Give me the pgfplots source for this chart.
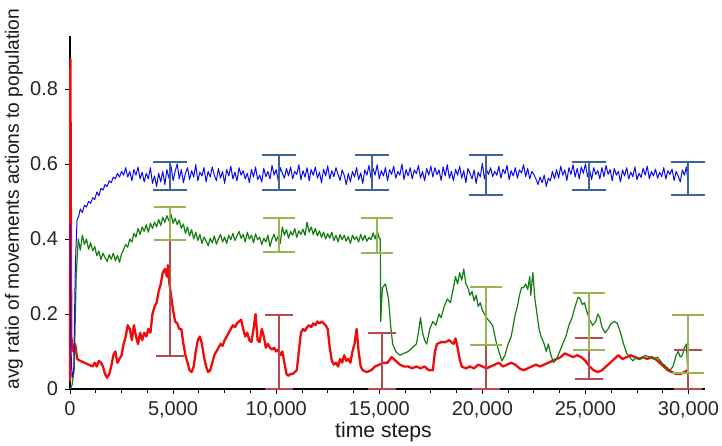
\documentclass[border=0pt]{standalone}
\usepackage{fontspec}
\setmainfont{Liberation Sans}
\usepackage{pgfplots}
\pgfplotsset{compat=1.18}
\definecolor{cblue}{RGB}{10,10,245}
\definecolor{cgreen}{RGB}{20,125,20}
\definecolor{cred}{RGB}{240,10,10}
\definecolor{eblue}{RGB}{60,100,150}
\definecolor{egreen}{RGB}{155,178,85}
\definecolor{ered}{RGB}{180,75,78}
\begin{document}
\begin{tikzpicture}
\begin{axis}[
  scale only axis,
  width=317.5pt, height=176.5pt,
  anchor=origin, at={(0,0)},
  xmin=0, xmax=30800, ymin=0, ymax=0.941,
  axis x line*=bottom, axis y line*=left,
  axis line style={black, line width=0.6pt},
  clip=false,
  xtick={0,5000,10000,15000,20000,25000,30000},
  minor x tick num=3,
  ytick={0,0.2,0.4,0.6,0.8},
  yticklabels={0,0.2,0.4,0.6,0.8},
  scaled x ticks=false,
  tick align=outside,
  major tick length=2.5pt, minor tick length=2pt,
  tick style={black, line width=0.4pt},
  /pgf/number format/assume math mode=true,
  /pgf/number format/1000 sep={,},
  xticklabel style={font=\fontsize{10}{12}\selectfont, text=black!85},
  yticklabel style={font=\fontsize{10}{12}\selectfont, text=black!85},
  xlabel={time steps},
  ylabel={avg ratio of movements actions to population},
  xlabel style={at={(rel axis cs:0.4937,-0.1218)}, anchor=center, font=\fontsize{10.6}{12}\selectfont, text=black!90},
  ylabel style={at={(rel axis cs:-0.0882,0.538)}, anchor=center, font=\fontsize{9.6}{12}\selectfont, text=black!90},
]
% red series
\addplot[cred, line width=1.15pt, line join=round] coordinates {
(0,0.02)(20,0.88)(60,0.14)(150,0.10)(250,0.12)(350,0.08)(500,0.075)(700,0.07)(900,0.065)(1100,0.06)
(1200,0.07)(1300,0.06)(1400,0.075)(1500,0.07)(1600,0.06)(1700,0.04)(1800,0.03)(1900,0.04)(2000,0.06)
(2100,0.09)(2200,0.10)(2300,0.07)(2400,0.08)(2500,0.09)(2600,0.12)(2700,0.14)(2800,0.17)(2900,0.16)
(3000,0.13)(3100,0.17)(3200,0.14)(3300,0.12)(3400,0.15)(3500,0.13)(3600,0.15)(3700,0.14)(3800,0.16)
(3900,0.15)(4000,0.20)(4100,0.22)(4200,0.23)(4300,0.26)(4400,0.28)(4500,0.31)(4600,0.32)(4700,0.30)
(4750,0.33)(4800,0.29)(4900,0.25)(5000,0.21)(5100,0.18)(5200,0.175)(5300,0.16)(5400,0.16)(5500,0.12)
(5600,0.09)(5700,0.07)(5800,0.05)(5900,0.045)(6000,0.06)(6100,0.10)(6200,0.13)(6300,0.14)(6400,0.12)
(6500,0.085)(6600,0.06)(6700,0.045)(6800,0.05)(6900,0.07)(7000,0.09)(7100,0.10)(7200,0.11)(7300,0.12)
(7400,0.115)(7500,0.13)(7600,0.14)(7700,0.15)(7800,0.16)(7900,0.17)(8000,0.165)(8100,0.175)(8200,0.18)
(8300,0.185)(8400,0.16)(8500,0.14)(8600,0.15)(8700,0.13)(8800,0.125)(8900,0.16)(9000,0.20)(9100,0.13)
(9200,0.125)(9300,0.16)(9400,0.14)(9500,0.11)(9600,0.12)(9700,0.11)(9800,0.105)(9900,0.11)(10000,0.10)
(10100,0.105)(10200,0.09)(10300,0.10)(10400,0.07)(10500,0.04)(10600,0.035)(10700,0.04)(10800,0.04)
(10900,0.045)(11000,0.05)(11100,0.10)(11200,0.15)(11300,0.16)(11400,0.155)(11500,0.165)(11600,0.17)
(11700,0.165)(11800,0.175)(11900,0.17)(12000,0.18)(12100,0.175)(12200,0.18)(12300,0.175)(12400,0.17)
(12500,0.16)(12600,0.11)(12700,0.075)(12800,0.065)(12900,0.07)(13000,0.06)(13100,0.08)(13200,0.07)
(13300,0.09)(13400,0.075)(13500,0.08)(13600,0.07)(13700,0.10)(13800,0.12)(13900,0.16)(14000,0.10)
(14100,0.06)(14200,0.05)(14400,0.045)(14600,0.05)(14800,0.06)(15000,0.065)(15200,0.07)(15400,0.07)
(15600,0.085)(15800,0.075)(16000,0.065)(16200,0.06)(16400,0.06)(16600,0.055)(16800,0.06)(17000,0.055)
(17200,0.06)(17400,0.05)(17600,0.05)(17700,0.10)(17800,0.12)(18000,0.125)(18200,0.125)(18400,0.13)
(18600,0.12)(18700,0.135)(18800,0.11)(18900,0.08)(19000,0.06)(19200,0.055)(19400,0.06)(19600,0.055)
(19800,0.065)(20000,0.06)(20200,0.055)(20400,0.06)(20600,0.065)(20800,0.07)(21000,0.06)(21200,0.065)
(21400,0.07)(21600,0.065)(21800,0.055)(22000,0.05)(22200,0.055)(22400,0.06)(22600,0.065)(22800,0.06)
(23000,0.065)(23200,0.07)(23400,0.075)(23600,0.08)(23800,0.085)(24000,0.095)(24200,0.09)(24400,0.085)
(24600,0.09)(24800,0.085)(25000,0.075)(25200,0.06)(25400,0.05)(25600,0.045)(25800,0.05)(26000,0.06)
(26200,0.07)(26400,0.08)(26600,0.09)(26800,0.08)(27000,0.085)(27200,0.09)(27400,0.085)(27600,0.08)
(27800,0.085)(28000,0.08)(28200,0.085)(28400,0.08)(28600,0.07)(28800,0.06)(29000,0.05)(29200,0.045)
(29400,0.04)(29600,0.04)(29800,0.045)(29950,0.05)
};
% green series
\addplot[cgreen, line width=0.6pt, line join=round] coordinates {
(0,0.0)(100,0.01)(200,0.05)
(300,0.30)(400,0.40)(500,0.37)(600,0.41)(700,0.385)(800,0.40)(900,0.372)(1000,0.39)(1100,0.368)(1200,0.38)
(1300,0.355)(1400,0.368)(1500,0.345)(1600,0.362)(1700,0.350)(1800,0.340)(1900,0.358)(2000,0.346)(2100,0.362)(2200,0.342)
(2300,0.356)(2400,0.338)(2500,0.360)(2600,0.372)(2700,0.385)(2800,0.378)(2900,0.40)(3000,0.392)(3100,0.415)(3200,0.405)
(3300,0.428)(3400,0.412)(3500,0.432)(3600,0.420)(3700,0.438)(3800,0.418)(3900,0.442)(4000,0.428)(4100,0.445)(4200,0.432)
(4300,0.452)(4400,0.436)(4500,0.458)(4600,0.444)(4700,0.462)(4800,0.448)(4900,0.466)(5000,0.442)(5100,0.455)(5200,0.438)
(5300,0.450)(5400,0.428)(5500,0.440)(5600,0.415)(5700,0.432)(5800,0.408)(5900,0.425)(6000,0.400)(6100,0.418)(6200,0.396)
(6300,0.412)(6400,0.388)(6500,0.405)(6600,0.395)(6700,0.382)(6800,0.402)(6900,0.390)(7000,0.408)(7100,0.386)(7200,0.400)
(7300,0.412)(7400,0.392)(7500,0.405)(7600,0.388)(7700,0.410)(7800,0.398)(7900,0.415)(8000,0.396)(8100,0.408)(8200,0.420)
(8300,0.402)(8400,0.412)(8500,0.392)(8600,0.418)(8700,0.400)(8800,0.410)(8900,0.390)(9000,0.414)(9100,0.398)(9200,0.405)
(9300,0.385)(9400,0.402)(9500,0.392)(9600,0.410)(9700,0.380)(9800,0.400)(9900,0.412)(10000,0.394)(10100,0.408)(10200,0.388)
(10300,0.432)(10400,0.410)(10500,0.425)(10600,0.402)(10700,0.420)(10800,0.410)(10900,0.428)(11000,0.404)(11100,0.422)(11200,0.412)
(11300,0.426)(11400,0.410)(11500,0.445)(11600,0.418)(11700,0.432)(11800,0.412)(11900,0.428)(12000,0.408)(12100,0.422)(12200,0.404)
(12300,0.418)(12400,0.400)(12500,0.414)(12600,0.402)(12700,0.418)(12800,0.396)(12900,0.410)(13000,0.392)(13100,0.412)(13200,0.398)
(13300,0.410)(13400,0.394)(13500,0.406)(13600,0.388)(13700,0.410)(13800,0.398)(13900,0.406)(14000,0.392)(14100,0.412)(14200,0.396)
(14300,0.410)(14400,0.394)(14500,0.404)(14600,0.398)(14700,0.416)(14800,0.400)(14900,0.422)(15000,0.402)
(15050,0.40)(15070,0.18)(15150,0.27)(15300,0.28)
(15450,0.24)(15550,0.17)(15650,0.12)(15800,0.10)(16000,0.09)(16200,0.095)(16400,0.10)(16600,0.11)
(16800,0.12)(16900,0.15)(17000,0.19)(17100,0.15)(17200,0.13)(17300,0.12)(17450,0.16)(17600,0.18)
(17750,0.17)(17900,0.20)(18000,0.19)(18150,0.22)(18300,0.24)(18450,0.23)(18600,0.27)(18700,0.30)
(18800,0.28)(18900,0.31)(19000,0.29)(19100,0.32)(19200,0.28)(19300,0.27)(19400,0.25)(19500,0.26)
(19600,0.235)(19700,0.25)(19800,0.22)(19900,0.23)(20000,0.21)(20100,0.20)(20200,0.19)(20350,0.18)
(20500,0.17)(20650,0.13)(20800,0.10)(20950,0.075)(21100,0.09)(21250,0.12)(21400,0.14)(21500,0.17)
(21600,0.20)(21700,0.22)(21800,0.25)(21900,0.27)(22000,0.27)(22100,0.28)(22200,0.265)(22300,0.30)
(22350,0.25)(22450,0.31)(22550,0.24)(22650,0.20)(22750,0.16)(22850,0.14)(23000,0.12)(23100,0.10)
(23200,0.12)(23300,0.095)(23450,0.07)(23600,0.08)(23750,0.10)(23900,0.12)(24050,0.14)(24200,0.17)
(24350,0.19)(24500,0.22)(24650,0.245)(24750,0.24)(24850,0.225)(24950,0.23)(25050,0.21)(25200,0.185)
(25350,0.17)(25500,0.18)(25600,0.20)(25700,0.19)(25800,0.165)(25950,0.15)(26100,0.16)(26250,0.175)
(26400,0.18)(26550,0.175)(26700,0.15)(26850,0.12)(27000,0.095)(27150,0.085)(27300,0.075)(27500,0.085)
(27700,0.08)(27900,0.09)(28100,0.085)(28300,0.08)(28500,0.085)(28700,0.07)(28900,0.06)(29100,0.05)
(29250,0.06)(29400,0.09)(29500,0.10)(29600,0.085)(29700,0.09)(29800,0.11)(29900,0.12)(29950,0.06)
};
% blue series
\addplot[cblue, line width=0.5pt, line join=round] coordinates {
(0,0.44)(40,0.12)(100,0.03)(180,0.05)(260,0.33)(340,0.45)(420,0.46)(500,0.48)(600,0.47)(700,0.49)
(800,0.485)(900,0.50)(1000,0.495)(1100,0.51)(1200,0.505)(1300,0.525)(1400,0.515)(1500,0.535)(1600,0.53)
(1700,0.545)(1800,0.54)(1900,0.555)(2000,0.55)(2100,0.565)(2200,0.56)(2300,0.575)(2400,0.565)(2500,0.58)
(2600,0.570)(2700,0.590)(2800,0.565)(2900,0.580)(3000,0.555)(3100,0.585)(3200,0.570)(3300,0.592)(3400,0.560)(3500,0.578)
(3600,0.552)(3700,0.575)(3800,0.560)(3900,0.590)(4000,0.548)(4100,0.568)(4200,0.540)(4300,0.575)(4400,0.552)(4500,0.580)
(4600,0.545)(4700,0.585)(4800,0.562)(4900,0.595)(5000,0.555)(5100,0.580)(5200,0.600)(5300,0.560)(5400,0.585)(5500,0.550)
(5600,0.575)(5700,0.590)(5800,0.558)(5900,0.582)(6000,0.565)(6100,0.598)(6200,0.555)(6300,0.578)(6400,0.568)(6500,0.590)
(6600,0.552)(6700,0.580)(6800,0.565)(6900,0.592)(7000,0.570)(7100,0.555)(7200,0.588)(7300,0.562)(7400,0.580)(7500,0.548)
(7600,0.585)(7700,0.568)(7800,0.594)(7900,0.560)(8000,0.578)(8100,0.555)(8200,0.590)(8300,0.570)(8400,0.582)(8500,0.560)
(8600,0.575)(8700,0.550)(8800,0.585)(8900,0.565)(9000,0.592)(9100,0.558)(9200,0.570)(9300,0.552)(9400,0.588)(9500,0.566)
(9600,0.580)(9700,0.560)(9800,0.596)(9900,0.570)(10000,0.585)(10100,0.555)(10200,0.590)(10300,0.575)(10400,0.562)(10500,0.588)
(10600,0.568)(10700,0.592)(10800,0.560)(10900,0.580)(11000,0.572)(11100,0.598)(11200,0.558)(11300,0.582)(11400,0.565)(11500,0.590)
(11600,0.555)(11700,0.585)(11800,0.570)(11900,0.592)(12000,0.562)(12100,0.578)(12200,0.550)(12300,0.586)(12400,0.568)(12500,0.595)
(12600,0.560)(12700,0.582)(12800,0.566)(12900,0.590)(13000,0.572)(13100,0.556)(13200,0.584)(13300,0.570)(13400,0.545)(13500,0.575)
(13600,0.552)(13700,0.580)(13800,0.565)(13900,0.590)(14000,0.558)(14100,0.576)(14200,0.548)(14300,0.584)(14400,0.570)(14500,0.596)
(14600,0.562)(14700,0.588)(14800,0.570)(14900,0.598)(15000,0.560)(15100,0.582)(15200,0.568)(15300,0.590)(15400,0.555)(15500,0.585)
(15600,0.572)(15700,0.594)(15800,0.562)(15900,0.580)(16000,0.570)(16100,0.600)(16200,0.558)(16300,0.585)(16400,0.568)(16500,0.590)
(16600,0.560)(16700,0.584)(16800,0.574)(16900,0.596)(17000,0.562)(17100,0.580)(17200,0.555)(17300,0.588)(17400,0.570)(17500,0.594)
(17600,0.565)(17700,0.590)(17800,0.572)(17900,0.584)(18000,0.556)(18100,0.592)(18200,0.568)(18300,0.598)(18400,0.562)(18500,0.580)
(18600,0.555)(18700,0.586)(18800,0.570)(18900,0.594)(19000,0.562)(19100,0.582)(19200,0.550)(19300,0.588)(19400,0.575)(19500,0.560)
(19600,0.584)(19700,0.548)(19800,0.578)(19900,0.565)(20000,0.602)(20100,0.560)(20200,0.585)(20300,0.572)(20400,0.590)(20500,0.566)
(20600,0.580)(20700,0.570)(20800,0.594)(20900,0.562)(21000,0.586)(21100,0.574)(21200,0.596)(21300,0.558)(21400,0.582)(21500,0.568)
(21600,0.590)(21700,0.562)(21800,0.584)(21900,0.576)(22000,0.598)(22100,0.566)(22200,0.588)(22300,0.560)(22400,0.580)(22500,0.572)
(22600,0.560)(22700,0.545)(22800,0.565)(22900,0.550)(23000,0.570)(23100,0.540)(23200,0.562)(23300,0.555)(23400,0.580)(23500,0.560)
(23600,0.585)(23700,0.562)(23800,0.594)(23900,0.570)(24000,0.584)(24100,0.556)(24200,0.590)(24300,0.572)(24400,0.598)(24500,0.565)
(24600,0.588)(24700,0.560)(24800,0.592)(24900,0.575)(25000,0.600)(25100,0.566)(25200,0.585)(25300,0.558)(25400,0.590)(25500,0.572)
(25600,0.582)(25700,0.560)(25800,0.590)(25900,0.566)(26000,0.596)(26100,0.572)(26200,0.585)(26300,0.555)(26400,0.588)(26500,0.570)
(26600,0.580)(26700,0.552)(26800,0.584)(26900,0.568)(27000,0.590)(27100,0.560)(27200,0.578)(27300,0.566)(27400,0.592)(27500,0.558)
(27600,0.575)(27700,0.564)(27800,0.588)(27900,0.570)(28000,0.594)(28100,0.560)(28200,0.580)(28300,0.568)(28400,0.586)(28500,0.562)
(28600,0.578)(28700,0.566)(28800,0.590)(28900,0.560)(29000,0.582)(29100,0.572)(29200,0.586)(29300,0.556)(29400,0.580)(29500,0.568)
(29600,0.552)(29700,0.584)(29800,0.570)(29900,0.592)(29950,0.565)
};
% error bars
\addplot[draw=none, mark=none, forget plot, line width=1pt,
  error bars/.cd, y dir=both, y explicit,
  error bar style={draw=ered, line width=1pt},
  error mark options={draw=ered, rotate=90, line width=1pt, mark size=7pt}]
  coordinates {
  (4854,0.2425) +- (0,0.1545)
  (10146,0.098) +- (0,0.098)
  (15150,0.075) +- (0,0.075)
  (20194,0.058) +- (0,0.058)
  (25194,0.0815) +- (0,0.0535)
  (29951,0.0515) +- (0,0.0515)
};
\addplot[draw=none, mark=none, forget plot, line width=1pt,
  error bars/.cd, y dir=both, y explicit,
  error bar style={draw=egreen, line width=1pt},
  error mark options={draw=egreen, rotate=90, line width=1pt, mark size=8pt}]
  coordinates {
  (4854,0.4405) +- (0,0.0435)
  (10146,0.4095) +- (0,0.0455)
  (14890,0.4085) +- (0,0.0465)
  (20194,0.194) +- (0,0.078)
  (25194,0.179) +- (0,0.076)
  (29951,0.119) +- (0,0.077)
};
\addplot[draw=none, mark=none, forget plot, line width=1pt,
  error bars/.cd, y dir=both, y explicit,
  error bar style={draw=eblue, line width=1pt},
  error mark options={draw=eblue, rotate=90, line width=1pt, mark size=8.5pt}]
  coordinates {
  (4854,0.5685) +- (0,0.0375)
  (10146,0.5775) +- (0,0.0465)
  (14650,0.5775) +- (0,0.0465)
  (20194,0.570) +- (0,0.054)
  (25194,0.5685) +- (0,0.0375)
  (29951,0.561) +- (0,0.045)
};
\end{axis}
\pgfresetboundingbox
\path[use as bounding box] (-35pt,-28pt) rectangle (326pt,194.5pt);
\end{tikzpicture}
\end{document}
